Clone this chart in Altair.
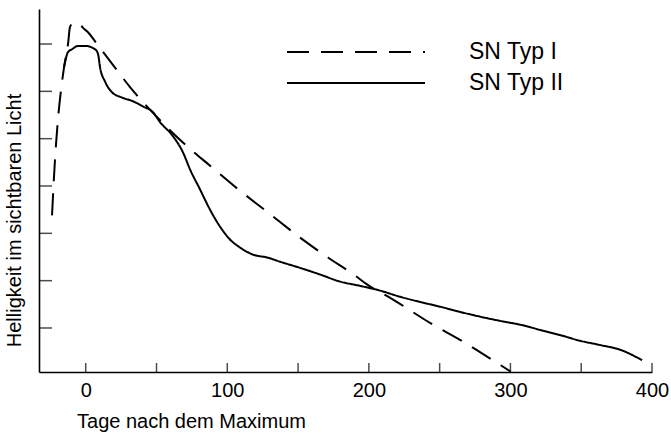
import altair as alt
import pandas as pd

# ---- data ----
series_names = ["SN Typ I", "SN Typ II"]

type1_days = [-23.8, -21.7, -19.6, -17.4, -15.3, -12.5, -11.1, -9.0, -4.7, -1.9,
              1.6, 8.0, 17.2, 31.3, 52.5, 72.3, 87.8, 106.9, 128.8, 151.4,
              171.1, 190.2, 198.7, 217.1, 245.3, 264.4, 278.5, 300.0]
type1_brightness = [3.38, 4.56, 5.41, 6.04, 6.51, 7.00, 7.36, 7.44, 7.44, 7.34,
                    7.25, 7.00, 6.64, 6.09, 5.39, 4.82, 4.43, 3.95, 3.44, 2.91,
                    2.49, 2.11, 1.92, 1.60, 1.07, 0.75, 0.49, 0.08]

type2_days = [-15.3, -12.5, -9.7, -5.4, -0.5, 6.6, 8.7, 10.1, 13.6, 18.6,
              25.6, 33.4, 40.5, 47.5, 52.5, 61.7, 68.7, 73.7, 80.7, 87.8,
              94.9, 101.9, 109.0, 118.2, 128.1, 137.3, 151.4, 165.5, 179.7, 193.8,
              207.9, 222.0, 236.2, 250.3, 264.4, 278.5, 292.7, 306.8, 320.9, 335.1,
              349.2, 363.3, 377.5, 393.0]
type2_brightness = [6.51, 6.83, 6.89, 6.96, 6.96, 6.89, 6.79, 6.51, 6.21, 5.98,
                    5.87, 5.79, 5.68, 5.56, 5.35, 5.05, 4.71, 4.35, 3.93, 3.50,
                    3.14, 2.87, 2.70, 2.55, 2.49, 2.40, 2.27, 2.13, 1.98, 1.89,
                    1.79, 1.66, 1.55, 1.45, 1.34, 1.24, 1.15, 1.07, 0.96, 0.85,
                    0.73, 0.64, 0.54, 0.32]

x_tick_values = [0, 50, 100, 150, 200, 250, 300, 350, 400]
x_label_values = [0, 100, 200, 300, 400]
y_tick_values = [1, 2, 3, 4, 5, 6, 7]

x_title = "Tage nach dem Maximum"
y_title = "Helligkeit im sichtbaren Licht"

# ---- tables ----
rows = []
for i, (d, b) in enumerate(zip(type1_days, type1_brightness)):
    rows.append({"tag": d, "hell": b, "typ": series_names[0], "ord": i})
for i, (d, b) in enumerate(zip(type2_days, type2_brightness)):
    rows.append({"tag": d, "hell": b, "typ": series_names[1], "ord": i})
df = pd.DataFrame(rows)
xdf = pd.DataFrame({"tag": x_tick_values})
ydf = pd.DataFrame({"hell": y_tick_values})

FONT = "Liberation Sans"
xscale = alt.Scale(domain=[-33, 400], nice=False, zero=False)
yscale = alt.Scale(domain=[0.07, 7.74], nice=False, zero=False)

lines = alt.Chart(df).mark_line(color="black", strokeWidth=2, interpolate="monotone").encode(
    x=alt.X("tag:Q", scale=xscale,
            axis=alt.Axis(values=x_label_values, ticks=False, tickSize=0, grid=False,
                          domainColor="black", domainWidth=1.6,
                          labelFont=FONT, labelFontSize=20, labelColor="black",
                          labelPadding=8, labelFlush=False,
                          title=x_title, titleFont=FONT, titleFontSize=20,
                          titleFontWeight="normal", titleColor="black",
                          titleX=152, titleY=55, titleAlign="center",
                          titleBaseline="alphabetic")),
    y=alt.Y("hell:Q", scale=yscale,
            axis=alt.Axis(labels=False, ticks=False, tickSize=0, grid=False,
                          domainColor="black", domainWidth=1.6,
                          title=y_title, titleFont=FONT, titleFontSize=20,
                          titleFontWeight="normal", titleColor="black",
                          titleAngle=270, titleX=-25, titleY=211,
                          titleAlign="center", titleBaseline="middle")),
    strokeDash=alt.StrokeDash(
        "typ:N",
        scale=alt.Scale(domain=series_names, range=[[22, 12], [1, 0]]),
        legend=alt.Legend(title=None, orient="none", legendX=247, legendY=27.5,
                          symbolType="stroke", symbolSize=19044,
                          symbolStrokeWidth=2, symbolStrokeColor="black",
                          clipHeight=31, rowPadding=0, padding=0,
                          labelOffset=43, labelFont=FONT, labelFontSize=23,
                          labelColor="black", labelLimit=300)),
    detail="typ:N",
    order="ord:Q",
)

xticks = alt.Chart(xdf).mark_tick(orient="vertical", color="black", thickness=1.5, size=9).encode(
    x=alt.X("tag:Q", scale=xscale),
    y=alt.value(358.5),
)

yticks = alt.Chart(ydf).mark_tick(orient="horizontal", color="black", thickness=1.5, size=13).encode(
    y=alt.Y("hell:Q", scale=yscale),
    x=alt.value(6.5),
)

chart = alt.layer(lines, xticks, yticks).properties(
    width=613,
    height=363,
    padding={"left": 39, "top": 9, "right": 19, "bottom": 62},
    autosize=alt.AutoSizeParams(type="none"),
    background="white",
).configure_view(stroke=None)

chart.save("out.html", embed_options={"renderer": "svg", "actions": False})
